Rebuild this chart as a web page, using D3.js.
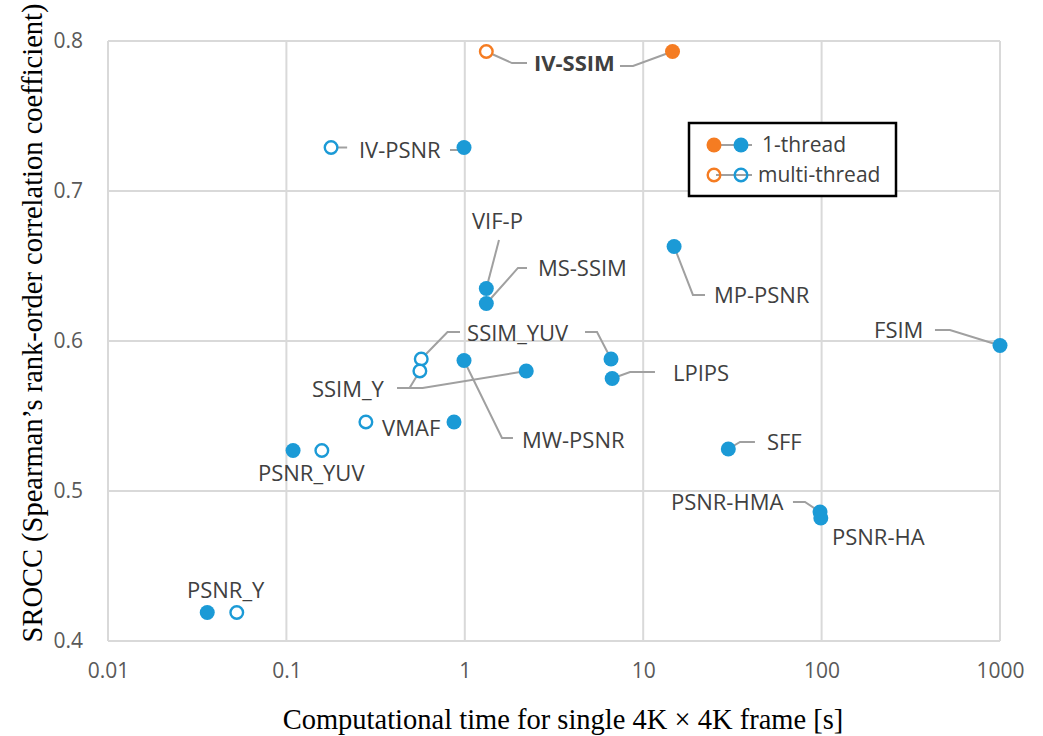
<!DOCTYPE html>
<html>
<head>
<meta charset="utf-8">
<script src="https://cdn.jsdelivr.net/npm/d3@7"></script>
<style>
  body { margin: 0; background: #fff; }
  svg text { font-family: "Open Sans", sans-serif; }
</style>
</head>
<body>
<script>
// metric names and values
var metrics    = ["IV-SSIM", "IV-PSNR", "VIF-P", "MS-SSIM", "MP-PSNR", "FSIM", "SSIM_YUV", "LPIPS",
                  "SSIM_Y", "MW-PSNR", "VMAF", "PSNR_YUV", "PSNR_Y", "SFF", "PSNR-HMA", "PSNR-HA"];
var timeSingle = [14.6, 0.99, 1.32, 1.32, 14.9, 1000, 6.6, 6.7, 2.21, 0.99, 0.87, 0.109, 0.036, 30, 98, 99];
var timeMulti  = [1.32, 0.178, null, null, null, null, 0.57, null, 0.56, null, 0.279, 0.158, 0.0527, null, null, null];
var srocc      = [0.793, 0.729, 0.635, 0.625, 0.663, 0.597, 0.588, 0.575, 0.580, 0.587, 0.546, 0.527, 0.419, 0.528, 0.486, 0.482];
var proposed   = ["IV-SSIM"];

var xTicks = [0.01, 0.1, 1, 10, 100, 1000];
var yTicks = [0.4, 0.5, 0.6, 0.7, 0.8];

// label anchors (left edge, middle) in data units
var labelAt = {
  "IV-SSIM":  [2.44, 0.7853], "IV-PSNR": [0.255, 0.7273], "VIF-P": [1.097, 0.680],
  "MS-SSIM":  [2.57, 0.6487], "MP-PSNR": [24.9, 0.6307],  "FSIM": [196.8, 0.6073],
  "SSIM_YUV": [1.03, 0.6053], "LPIPS":   [14.69, 0.5787], "SSIM_Y": [0.139, 0.568],
  "MW-PSNR":  [2.09, 0.534],  "VMAF":    [0.344, 0.542],  "PSNR_YUV": [0.0693, 0.512],
  "PSNR_Y":   [0.0277, 0.434], "SFF":    [49.4, 0.5327],  "PSNR-HMA": [14.3, 0.4927],
  "PSNR-HA":  [114.3, 0.4693]
};

// leader lines in data units
var leaders = [
  [[1.32, 0.793], [1.839, 0.7853], [2.232, 0.7853]],
  [[7.41, 0.7833], [8.77, 0.7833], [14.6, 0.793]],
  [[0.178, 0.729], [0.219, 0.729]],
  [[0.826, 0.7273], [0.928, 0.7273], [0.99, 0.729]],
  [[1.555, 0.6673], [1.32, 0.635]],
  [[2.232, 0.6487], [1.986, 0.6487], [1.32, 0.625]],
  [[14.9, 0.663], [19.0, 0.6307], [22.2, 0.6307]],
  [[432, 0.6073], [524, 0.6073], [1000, 0.597]],
  [[4.72, 0.606], [5.51, 0.606], [6.6, 0.588]],
  [[0.94, 0.606], [0.80, 0.606], [0.57, 0.588]],
  [[0.417, 0.5687], [0.49, 0.5687], [0.56, 0.580]],
  [[0.49, 0.5687], [0.58, 0.5687], [2.21, 0.580]],
  [[0.99, 0.587], [1.616, 0.5353], [1.862, 0.5353]],
  [[6.7, 0.575], [8.44, 0.5793], [11.64, 0.5793]],
  [[30, 0.528], [34.9, 0.5327], [42.3, 0.5327]],
  [[69.1, 0.4927], [80.7, 0.4927], [98, 0.486]]
];

var W = 1043, H = 736;
var blue = "#1b9ad6", orange = "#f57c22";

var svg = d3.select("body").append("svg")
    .attr("width", W)
    .attr("height", H);

var x = d3.scaleLog().domain([0.01, 1000]).range([108, 1000]);
var y = d3.scaleLinear().domain([0.4, 0.8]).range([641, 41]);

//grid
svg.append("g").selectAll("line")
  .data(xTicks).enter().append("line")
    .attr("x1", function(d) { return x(d); })
    .attr("x2", function(d) { return x(d); })
    .attr("y1", y(0.4)).attr("y2", y(0.8))
    .attr("stroke", "#d9d9d9").attr("stroke-width", 2);

svg.append("g").selectAll("line")
  .data(yTicks).enter().append("line")
    .attr("x1", x(0.01)).attr("x2", x(1000))
    .attr("y1", function(d) { return y(d); })
    .attr("y2", function(d) { return y(d); })
    .attr("stroke", "#d9d9d9").attr("stroke-width", 2);

//axes, text only
var xAxis = svg.append("g")
    .attr("transform", "translate(0," + y(0.4) + ")")
    .call(d3.axisBottom(x).tickValues(xTicks).tickSize(0).tickPadding(22)
      .tickFormat(function(d) { return String(d); }));
xAxis.select(".domain").remove();
xAxis.selectAll("text").attr("font-size", 21).attr("fill", "#595959")
    .style("font-family", "'Open Sans', sans-serif");

var yAxis = svg.append("g")
    .attr("transform", "translate(" + x(0.01) + ",0)")
    .call(d3.axisLeft(y).tickValues(yTicks).tickSize(0).tickPadding(25)
      .tickFormat(d3.format(".1f")));
yAxis.select(".domain").remove();
yAxis.selectAll("text").attr("font-size", 21).attr("fill", "#595959")
    .style("font-family", "'Open Sans', sans-serif");

//axis titles
svg.append("text")
    .attr("x", 563).attr("y", 729)
    .attr("text-anchor", "middle")
    .style("font-family", "'Liberation Serif', serif")
    .attr("font-size", 28.5)
    .attr("fill", "#000")
    .text("Computational time for single 4K \u00d7 4K frame [s]");

svg.append("text")
    .attr("transform", "translate(42,323) rotate(-90)")
    .attr("text-anchor", "middle")
    .style("font-family", "'Liberation Serif', serif")
    .attr("font-size", 28.5)
    .attr("fill", "#000")
    .text("SROCC (Spearman\u2019s rank-order correlation coefficient)");

//leader lines
var line = d3.line()
    .x(function(d) { return x(d[0]); })
    .y(function(d) { return y(d[1]); });

svg.append("g").selectAll("path")
  .data(leaders).enter().append("path")
    .attr("d", line)
    .attr("fill", "none")
    .attr("stroke", "#a0a0a0")
    .attr("stroke-width", 2);

//points
var rows = metrics.map(function(m, i) {
  return { name: m, t1: timeSingle[i], tm: timeMulti[i], s: srocc[i],
           color: proposed.indexOf(m) >= 0 ? orange : blue };
});

svg.append("g").selectAll("circle")
  .data(rows).enter().append("circle")
    .attr("cx", function(d) { return x(d.t1); })
    .attr("cy", function(d) { return y(d.s); })
    .attr("r", 7.5)
    .attr("fill", function(d) { return d.color; });

svg.append("g").selectAll("circle")
  .data(rows.filter(function(d) { return d.tm != null; })).enter().append("circle")
    .attr("cx", function(d) { return x(d.tm); })
    .attr("cy", function(d) { return y(d.s); })
    .attr("r", 6.3)
    .attr("fill", "#fff")
    .attr("stroke", function(d) { return d.color; })
    .attr("stroke-width", 2.4);

//labels
svg.append("g").selectAll("text")
  .data(rows).enter().append("text")
    .attr("x", function(d) { return x(labelAt[d.name][0]); })
    .attr("y", function(d) { return y(labelAt[d.name][1]); })
    .attr("dy", "0.35em")
    .attr("font-size", 22)
    .attr("font-weight", function(d) { return proposed.indexOf(d.name) >= 0 ? "bold" : "normal"; })
    .attr("fill", "#404040")
    .text(function(d) { return d.name; });

//legend
var lg = svg.append("g").attr("transform", "translate(689,123)");
lg.append("rect")
    .attr("width", 207).attr("height", 73)
    .attr("fill", "#fff")
    .attr("stroke", "#000")
    .attr("stroke-width", 2.5);

var legendRows = [
  { label: "1-thread", filled: true },
  { label: "multi-thread", filled: false }
];

var item = lg.selectAll("g.item")
  .data(legendRows).enter().append("g")
    .attr("class", "item")
    .attr("transform", function(d, i) { return "translate(0," + (22 + i * 30) + ")"; });

item.append("line")
    .attr("x1", 27).attr("x2", 63)
    .attr("stroke", "#a0a0a0").attr("stroke-width", 2);

[[25, orange], [52, blue]].forEach(function(m) {
  item.append("circle")
      .attr("cx", m[0]).attr("cy", 0)
      .attr("r", function(d) { return d.filled ? 7.5 : 6.3; })
      .attr("fill", function(d) { return d.filled ? m[1] : "none"; })
      .attr("stroke", function(d) { return d.filled ? "none" : m[1]; })
      .attr("stroke-width", 2.4);
});

item.append("text")
    .attr("x", function(d) { return d.filled ? 73 : 69; })
    .attr("dy", "0.35em")
    .attr("font-size", 21)
    .attr("fill", "#404040")
    .text(function(d) { return d.label; });
</script>
</body>
</html>
